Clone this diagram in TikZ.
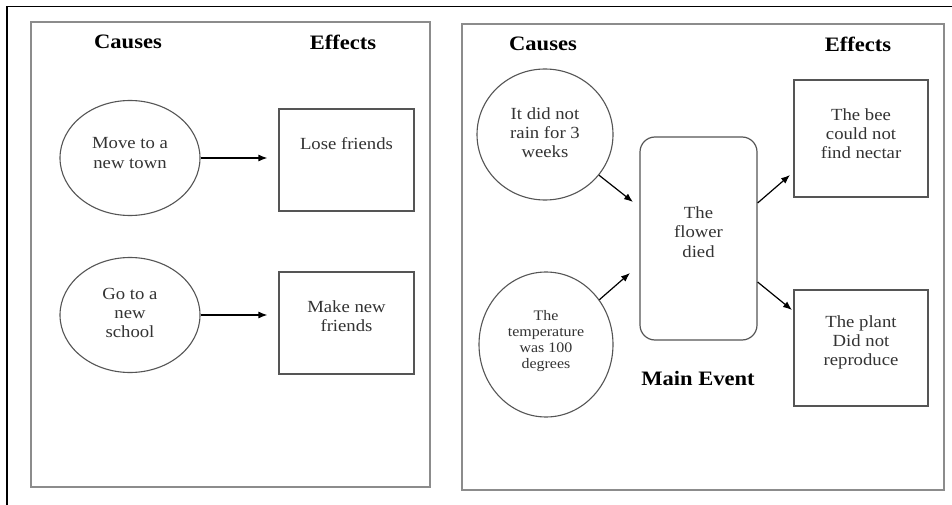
\documentclass[tikz,border=0pt]{standalone}
\usepackage{fontspec}
\setmainfont[FakeStretch=1.1]{Liberation Serif}
\usetikzlibrary{shapes.geometric,arrows.meta}
\definecolor{panelgray}{HTML}{8C8C8C}
\definecolor{shapegray}{HTML}{555555}
\definecolor{txtgray}{HTML}{333333}
\begin{document}
\begin{tikzpicture}[x=1pt,y=-1pt,
  panel/.style={draw=panelgray,line width=2pt},
  oval/.style={ellipse,draw=shapegray,line width=1.1pt,inner sep=0pt},
  box/.style={rectangle,draw=shapegray,line width=1.2pt,inner sep=0pt},
  mainbox/.style={rectangle,rounded corners=15pt,draw=shapegray,line width=1.2pt,inner sep=0pt},
  txt/.style={align=center,text=txtgray,inner sep=0pt,font=\fontsize{17}{19.3}\selectfont},
  smalltxt/.style={align=center,text=txtgray,inner sep=0pt,font=\fontsize{14.5}{16}\selectfont},
  head/.style={inner sep=0pt,font=\fontsize{20.5}{22}\selectfont\bfseries},
  arr/.style={-{Latex[length=9pt,width=7pt]},line width=1.2pt,black}]
\useasboundingbox (0,0) rectangle (952,505);
\fill[white] (0,0) rectangle (952,505);
% outer frame
\draw[line width=1.8pt,black] (7,505) -- (7,6.5) -- (952,6.5);
% panels
\draw[panel] (31,22) rectangle (430,487);
\draw[panel] (462,24) rectangle (944,490);
% left panel
\node[head] (lcauses) at (128,42) {Causes};
\node[head] (leffects) at (343,42) {Effects};
\node[oval,minimum width=140pt,minimum height=115pt] (e1) at (130,158) {};
\node[oval,minimum width=140pt,minimum height=115pt] (e2) at (130,315) {};
\node[box,minimum width=135pt,minimum height=102pt] (b1) at (346.5,160) {};
\node[box,minimum width=135pt,minimum height=102pt] (b2) at (346.5,323) {};
\node[txt] (te1) at (130,153) {Move to a\\new town};
\node[txt] (te2) at (130,313) {Go to a\\new\\school};
\node[txt] (tb1) at (346.5,144) {Lose friends};
\node[txt] (tb2) at (346.5,316) {Make new\\friends};
\draw[arr] (e1.east) -- ([xshift=-11pt]b1.west |- e1.east);
\draw[arr] (e2.east) -- ([xshift=-11pt]b2.west |- e2.east);
% right panel
\node[head] (rcauses) at (543,44) {Causes};
\node[head] (reffects) at (858,44) {Effects};
\node[oval,minimum width=136pt,minimum height=131pt] (c1) at (545,134.5) {};
\node[oval,minimum width=134pt,minimum height=145pt] (c2) at (546,344.5) {};
\node[mainbox,minimum width=117pt,minimum height=203pt] (main) at (698.5,238.5) {};
\node[box,minimum width=134pt,minimum height=117pt] (r1) at (861,138.5) {};
\node[box,minimum width=134pt,minimum height=116pt] (r2) at (861,348) {};
\node[txt] (tc1) at (545,132.5) {It did not\\rain for 3\\weeks};
\node[smalltxt] (tc2) at (546,341) {The\\temperature\\was 100\\degrees};
\node[txt] (tmain) at (698.5,232) {The\\flower\\died};
\node[txt] (tr1) at (861,133.5) {The bee\\could not\\find nectar};
\node[txt] (tr2) at (861,342.5) {The plant\\Did not\\reproduce};
\node[head] (mainevent) at (698,378) {Main Event};
\coordinate (a1e) at (633,202);
\coordinate (a2e) at (630,273);
\coordinate (a3e) at (790,175);
\coordinate (a4e) at (792,310);
\draw[arr] (c1.-37) -- (a1e);
\draw[arr] (c2.40) -- (a2e);
\draw[arr] ([yshift=35.5pt]main.east) -- (a3e);
\draw[arr] ([yshift=-43.5pt]main.east) -- (a4e);
\end{tikzpicture}
\end{document}
